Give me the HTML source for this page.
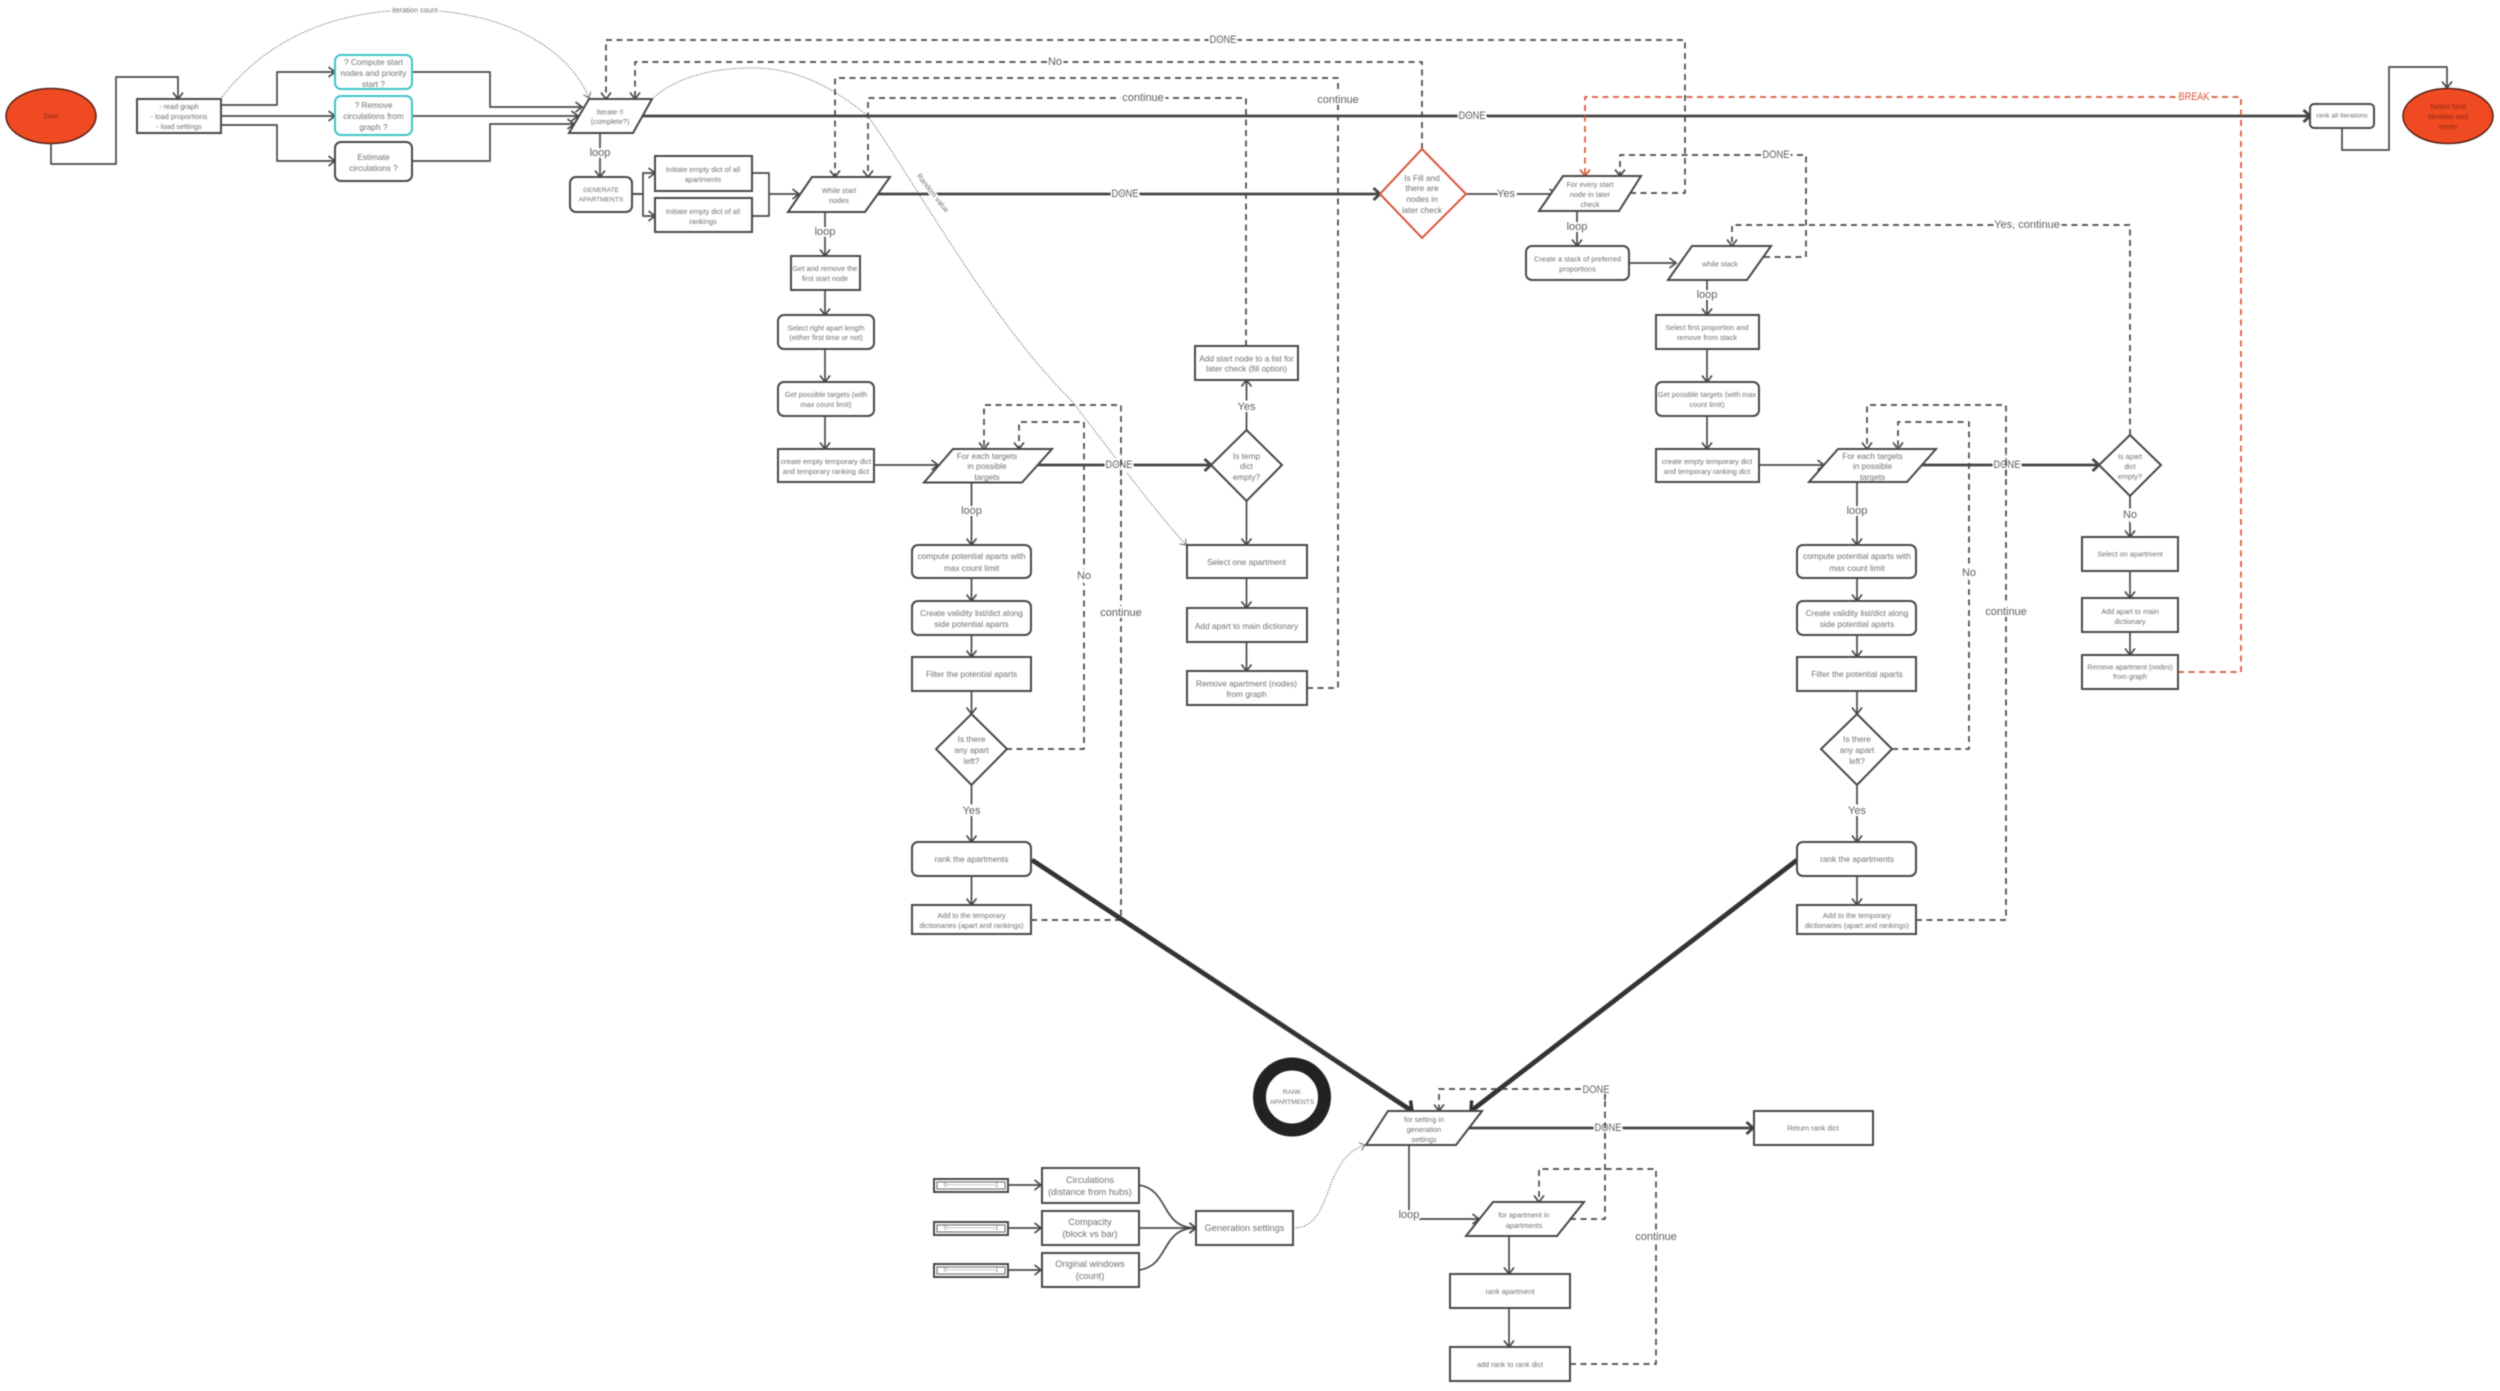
<!DOCTYPE html>
<html><head><meta charset="utf-8"><style>
html,body{margin:0;padding:0;background:#fff;width:2500px;height:1391px;overflow:hidden}
svg{display:block;filter:blur(.4px)}
text{font-family:"Liberation Sans",sans-serif;text-anchor:middle;dominant-baseline:central;fill:#707070}
.s{font-size:7.3px}.m{font-size:8.3px}.b{font-size:9.2px}.u{font-size:8.3px}
.l{font-size:11px;fill:#5e5e5e;paint-order:stroke;stroke:#fff;stroke-width:4px}
.n{fill:#fff;stroke:#484848;stroke-width:2}
.c{fill:none;stroke:#484848;stroke-width:1.7;stroke-linejoin:round}
.k{fill:none;stroke:#444;stroke-width:2.8;stroke-linejoin:round}
.d{fill:none;stroke:#484848;stroke-width:1.7;stroke-dasharray:6 4.5;stroke-linejoin:round}
.o{fill:none;stroke:#d9573a;stroke-width:1.7;stroke-dasharray:6 4.5;stroke-linejoin:round}
.p{fill:none;stroke:#666;stroke-width:1.1;stroke-dasharray:1.2 1.6}
</style></head><body>
<svg width="2500" height="1391" viewBox="0 0 2500 1391" xmlns="http://www.w3.org/2000/svg">
<defs>
<marker id="a" markerUnits="userSpaceOnUse" markerWidth="16" markerHeight="16" refX="8" refY="8" orient="auto"><path d="M1.5 3 L8 8 L1.5 13" fill="none" stroke="#484848" stroke-width="1.7"/></marker>
<marker id="t" markerUnits="userSpaceOnUse" markerWidth="20" markerHeight="20" refX="10" refY="10" orient="auto"><path d="M3.5 4 L10 10 L3.5 16" fill="none" stroke="#444" stroke-width="2.8"/></marker>
<marker id="r" markerUnits="userSpaceOnUse" markerWidth="16" markerHeight="16" refX="8" refY="8" orient="auto"><path d="M1.5 3 L8 8 L1.5 13" fill="none" stroke="#d9573a" stroke-width="1.7"/></marker>
<marker id="x" markerUnits="userSpaceOnUse" markerWidth="14" markerHeight="14" refX="7" refY="7" orient="auto"><path d="M2 3 L7 7 L2 11" fill="none" stroke="#666" stroke-width="1"/></marker>
<marker id="h" markerUnits="userSpaceOnUse" markerWidth="30" markerHeight="30" refX="15" refY="15" orient="auto"><path d="M8 7 L15 15 L8 23" fill="none" stroke="#333" stroke-width="3.4"/></marker>
</defs>

<!-- dotted -->
<path class="p" marker-end="url(#x)" d="M222 97 C270 35 340 10 415 10 C490 10 565 40 589 98"/>
<path class="p" d="M652 99 C675 78 710 68 752 68 C795 68 830 85 868 116"/>
<path class="p" marker-end="url(#x)" d="M868 116 C920 190 990 320 1071 400 C1110 450 1150 505 1186 545"/>
<path class="p" marker-end="url(#x)" d="M1293 1228 C1335 1228 1320 1160 1365 1145"/>

<!-- top connectors -->
<path class="c" marker-end="url(#a)" d="M51 143 V164 H116 V77 H178 V99"/>
<path class="c" marker-end="url(#a)" d="M221 105 H277 V72 H335"/>
<path class="c" marker-end="url(#a)" d="M221 116 H335"/>
<path class="c" marker-end="url(#a)" d="M221 125 H277 V161 H335"/>
<path class="c" marker-end="url(#a)" d="M412 72 H490 V107 H582"/>
<path class="c" marker-end="url(#a)" d="M412 116 H578"/>
<path class="c" marker-end="url(#a)" d="M412 161 H490 V124 H574"/>
<path class="c" marker-end="url(#a)" d="M600 133 V177"/>
<path class="c" marker-end="url(#a)" d="M632 194 H643 V173 H655"/>
<path class="c" marker-end="url(#a)" d="M632 194 H643 V216 H655"/>
<path class="c" d="M752 173 H769 V216 H752"/>
<path class="c" marker-end="url(#a)" d="M769 194 H799"/>
<path class="c" marker-end="url(#a)" d="M825 212 V256"/>
<path class="c" marker-end="url(#a)" d="M825 290 V315"/>
<path class="c" marker-end="url(#a)" d="M825 349 V382"/>
<path class="c" marker-end="url(#a)" d="M825 416 V449"/>
<path class="c" marker-end="url(#a)" d="M874 465 H938"/>
<path class="k" marker-end="url(#t)" d="M642 116 H2310"/>
<path class="k" marker-end="url(#t)" d="M878 194 H1380"/>
<path class="c" marker-end="url(#a)" d="M2342 128 V150 H2389 V67 H2447 V88"/>

<!-- dashed top -->
<path class="d" marker-end="url(#a)" d="M1630 193 H1685 V40 H606 V99"/>
<path class="d" marker-end="url(#a)" d="M1422 149 V62 H635 V99"/>
<path class="d" marker-end="url(#a)" d="M1307 688 H1338 V78 H835 V177"/>
<path class="d" marker-end="url(#a)" d="M1246 346 V98 H868 V177"/>
<path class="o" marker-end="url(#r)" d="M2178 672 H2241 V97 H1585 V176"/>
<path class="d" marker-end="url(#a)" d="M1764 257 H1806 V155 H1620 V176"/>
<path class="d" marker-end="url(#a)" d="M2130 435 V225 H1732 V246"/>

<!-- left inner column -->
<path class="c" marker-end="url(#a)" d="M971.5 482 V545"/>
<path class="c" marker-end="url(#a)" d="M971.5 578 V601"/>
<path class="c" marker-end="url(#a)" d="M971.5 635 V657"/>
<path class="c" marker-end="url(#a)" d="M971.5 691 V714"/>
<path class="c" marker-end="url(#a)" d="M971.5 785 V842"/>
<path class="c" marker-end="url(#a)" d="M971.5 876 V905"/>
<path class="d" marker-end="url(#a)" d="M1006 749 H1084 V422 H1019 V449"/>
<path class="d" marker-end="url(#a)" d="M1031 920 H1121 V405 H984 V449"/>
<path class="k" marker-end="url(#t)" d="M1036 465 H1211"/>
<path class="c" marker-end="url(#a)" d="M1246.5 430 V380"/>
<path class="c" marker-end="url(#a)" d="M1246.5 501 V545"/>
<path class="c" marker-end="url(#a)" d="M1246.5 578 V608"/>
<path class="c" marker-end="url(#a)" d="M1246.5 642 V671"/>

<!-- right column -->
<path class="c" marker-end="url(#a)" d="M1466 194 H1556"/>
<path class="c" marker-end="url(#a)" d="M1577 211 V246"/>
<path class="c" marker-end="url(#a)" d="M1629 263 H1676"/>
<path class="c" marker-end="url(#a)" d="M1707 280 V315"/>
<path class="c" marker-end="url(#a)" d="M1707 349 V382"/>
<path class="c" marker-end="url(#a)" d="M1707 416 V449"/>
<path class="c" marker-end="url(#a)" d="M1759 465 H1824"/>
<path class="c" marker-end="url(#a)" d="M1857 482 V545"/>
<path class="c" marker-end="url(#a)" d="M1857 578 V601"/>
<path class="c" marker-end="url(#a)" d="M1857 635 V657"/>
<path class="c" marker-end="url(#a)" d="M1857 691 V714"/>
<path class="c" marker-end="url(#a)" d="M1857 785 V842"/>
<path class="c" marker-end="url(#a)" d="M1857 876 V905"/>
<path class="d" marker-end="url(#a)" d="M1892 749 H1969 V422 H1898 V449"/>
<path class="d" marker-end="url(#a)" d="M1916 920 H2006 V405 H1867 V449"/>
<path class="k" marker-end="url(#t)" d="M1922 465 H2099"/>
<path class="c" marker-end="url(#a)" d="M2130 496 V537"/>
<path class="c" marker-end="url(#a)" d="M2130 571 V598"/>
<path class="c" marker-end="url(#a)" d="M2130 632 V655"/>

<!-- heavy arrows -->
<path fill="none" stroke="#333" stroke-width="4.8" marker-end="url(#h)" d="M1032 860 L1412 1111"/>
<path fill="none" stroke="#333" stroke-width="4.8" marker-end="url(#h)" d="M1797 860 L1471 1111"/>

<!-- bottom connectors -->
<path class="d" marker-end="url(#a)" d="M1570 1219 H1605 V1089 H1439 V1111"/>
<path class="k" marker-end="url(#t)" d="M1469 1128 H1753"/>
<path class="c" marker-end="url(#a)" d="M1409 1145 V1219 H1479"/>
<path class="d" marker-end="url(#a)" d="M1570 1364 H1656 V1169 H1539 V1202"/>
<path class="c" marker-end="url(#a)" d="M1509 1236 V1274"/>
<path class="c" marker-end="url(#a)" d="M1509 1308 V1347"/>
<path class="c" marker-end="url(#a)" d="M1008 1185 H1041"/>
<path class="c" marker-end="url(#a)" d="M1008 1228 H1041"/>
<path class="c" marker-end="url(#a)" d="M1008 1270 H1041"/>
<path class="c" marker-end="url(#a)" d="M1139 1185 C1170 1190 1160 1228 1196 1228"/>
<path class="c" marker-end="url(#a)" d="M1139 1228 H1196"/>
<path class="c" marker-end="url(#a)" d="M1139 1270 C1170 1266 1160 1228 1196 1228"/>

<!-- nodes -->
<ellipse cx="51" cy="116" rx="45" ry="27.5" fill="#f04a23" stroke="#5a2015" stroke-width="1.5"/>
<ellipse cx="2448" cy="116" rx="45" ry="27.5" fill="#f04a23" stroke="#5a2015" stroke-width="1.5"/>
<rect class="n" x="137" y="99" width="84" height="34"/>
<rect x="335" y="55" width="77" height="34" rx="6" fill="#fff" stroke="#3fc4c8" stroke-width="2"/>
<rect x="335" y="96" width="77" height="39" rx="6" fill="#fff" stroke="#3fc4c8" stroke-width="2"/>
<rect class="n" x="335" y="142" width="77" height="39" rx="6"/>
<polygon class="n" points="589,99 652,99 633,133 569,133"/>
<rect class="n" x="570" y="177" width="62" height="35" rx="6"/>
<rect class="n" x="655" y="156" width="97" height="35"/>
<rect class="n" x="655" y="198" width="97" height="34"/>
<polygon class="n" points="812,177 890,177 865,212 788,212"/>
<rect class="n" x="791" y="256" width="69" height="34"/>
<rect class="n" x="778" y="315" width="96" height="34" rx="6"/>
<rect class="n" x="778" y="382" width="96" height="34" rx="6"/>
<rect class="n" x="778" y="449" width="96" height="33"/>
<polygon class="n" points="953,449 1052,449 1022,482.5 924,482.5"/>
<rect class="n" x="912" y="545" width="119" height="33" rx="6"/>
<rect class="n" x="912" y="601" width="119" height="34" rx="6"/>
<rect class="n" x="912" y="657" width="119" height="34"/>
<polygon class="n" points="971.5,714 1007,749 971.5,785 936,749"/>
<rect class="n" x="912" y="842" width="119" height="34" rx="6"/>
<rect class="n" x="912" y="905" width="119" height="29"/>
<polygon class="n" points="1246.5,430 1282,465 1246.5,501 1211,465"/>
<rect class="n" x="1195" y="346" width="103" height="34"/>
<rect class="n" x="1187" y="545" width="120" height="33"/>
<rect class="n" x="1187" y="608" width="120" height="34"/>
<rect class="n" x="1187" y="671" width="120" height="34"/>
<polygon points="1422,149 1466,194 1422,238 1380,194" fill="#fff" stroke="#d9573a" stroke-width="2"/>
<polygon class="n" points="1563,176 1641,176 1619,211 1539,211"/>
<rect class="n" x="1526" y="246" width="103" height="34" rx="6"/>
<polygon class="n" points="1692,246 1771,246 1747,280 1668,280"/>
<rect class="n" x="1656" y="315" width="103" height="34"/>
<rect class="n" x="1656" y="382" width="103" height="34" rx="6"/>
<rect class="n" x="1656" y="449" width="103" height="33"/>
<polygon class="n" points="1838,449 1936,449 1907,482 1809,482"/>
<rect class="n" x="1797" y="545" width="119" height="33" rx="6"/>
<rect class="n" x="1797" y="601" width="119" height="34" rx="6"/>
<rect class="n" x="1797" y="657" width="119" height="34"/>
<polygon class="n" points="1857,714 1892,749 1857,785 1821,749"/>
<rect class="n" x="1797" y="842" width="119" height="34" rx="6"/>
<rect class="n" x="1797" y="905" width="119" height="29"/>
<polygon class="n" points="2130,435 2161,465 2130,496 2099,465"/>
<rect class="n" x="2082" y="537" width="96" height="34"/>
<rect class="n" x="2082" y="598" width="96" height="34"/>
<rect class="n" x="2082" y="655" width="96" height="34"/>
<rect class="n" x="2310" y="104" width="64" height="24" rx="4"/>
<ellipse cx="1292" cy="1097" rx="32.5" ry="33" fill="#fff" stroke="#222" stroke-width="13"/>
<polygon class="n" points="1388,1111 1482,1111 1456,1145 1366,1145"/>
<rect class="n" x="1754" y="1111" width="119" height="34"/>
<polygon class="n" points="1493,1202 1584,1202 1557,1236 1466,1236"/>
<rect class="n" x="1450" y="1274" width="120" height="34"/>
<rect class="n" x="1450" y="1347" width="120" height="34"/>
<rect class="n" x="1196" y="1211" width="97" height="34"/>
<rect class="n" x="1042" y="1168" width="97" height="35"/>
<rect class="n" x="1042" y="1211" width="97" height="34"/>
<rect class="n" x="1042" y="1253" width="97" height="34"/>
<rect class="n" x="934" y="1179" width="74" height="13"/><rect x="937" y="1182" width="68" height="7" fill="none" stroke="#666" stroke-width="1"/>
<rect class="n" x="934" y="1222" width="74" height="13"/><rect x="937" y="1225" width="68" height="7" fill="none" stroke="#666" stroke-width="1"/>
<rect class="n" x="934" y="1264" width="74" height="13"/><rect x="937" y="1267" width="68" height="7" fill="none" stroke="#666" stroke-width="1"/>

<!-- node text -->
<text class="s" x="51" y="116" style="fill:#8a2a12">Start</text>
<text class="s" style="fill:#8a2a12"><tspan x="2448" y="106">Select best</tspan><tspan x="2448" y="116">iteration and</tspan><tspan x="2448" y="126">return</tspan></text>
<text class="s"><tspan x="179" y="106">- read graph</tspan><tspan x="179" y="116">- load proportions</tspan><tspan x="179" y="126">- load settings</tspan></text>
<text class="u"><tspan x="373.5" y="62">? Compute start</tspan><tspan x="373.5" y="73">nodes and priority</tspan><tspan x="373.5" y="84">start ?</tspan></text>
<text class="u"><tspan x="373.5" y="105">? Remove</tspan><tspan x="373.5" y="116">circulations from</tspan><tspan x="373.5" y="127">graph ?</tspan></text>
<text class="u"><tspan x="373.5" y="157">Estimate</tspan><tspan x="373.5" y="168">circulations ?</tspan></text>
<text class="s"><tspan x="610" y="111.5">Iterate !!</tspan><tspan x="610" y="121">(complete?)</tspan></text>
<text style="font-size:6.6px"><tspan x="601" y="190">GENERATE</tspan><tspan x="601" y="199.5">APARTMENTS</tspan></text>
<text class="s"><tspan x="703" y="169">Initiate empty dict of all</tspan><tspan x="703" y="179">apartments</tspan></text>
<text class="s"><tspan x="703" y="211">Initiate empty dict of all</tspan><tspan x="703" y="221">rankings</tspan></text>
<text class="s"><tspan x="839" y="190">While start</tspan><tspan x="839" y="200">nodes</tspan></text>
<text class="s"><tspan x="825" y="268">Get and remove the</tspan><tspan x="825" y="278">first start node</tspan></text>
<text class="s"><tspan x="826" y="327.5">Select right apart length</tspan><tspan x="826" y="337">(either first time or not)</tspan></text>
<text class="s"><tspan x="826" y="394">Get possible targets (with</tspan><tspan x="826" y="404">max count limit)</tspan></text>
<text class="s"><tspan x="826" y="461">create empty temporary dict</tspan><tspan x="826" y="471">and temporary ranking dict</tspan></text>
<text class="m"><tspan x="987" y="456">For each targets</tspan><tspan x="987" y="466">in possible</tspan><tspan x="987" y="477">targets</tspan></text>
<text class="m"><tspan x="971.5" y="556">compute potential aparts with</tspan><tspan x="971.5" y="568">max count limit</tspan></text>
<text class="m"><tspan x="971.5" y="613">Create validity list/dict along</tspan><tspan x="971.5" y="624">side potential aparts</tspan></text>
<text class="m" x="971.5" y="674">Filter the potential aparts</text>
<text class="m"><tspan x="971.5" y="739">Is there</tspan><tspan x="971.5" y="750">any apart</tspan><tspan x="971.5" y="761">left?</tspan></text>
<text class="m" x="971.5" y="859">rank the apartments</text>
<text class="s"><tspan x="971.5" y="915">Add to the temporary</tspan><tspan x="971.5" y="925">dictionaries (apart and rankings)</tspan></text>
<text class="m"><tspan x="1246.5" y="456">Is temp</tspan><tspan x="1246.5" y="466">dict</tspan><tspan x="1246.5" y="477">empty?</tspan></text>
<text class="m"><tspan x="1246.5" y="358.5">Add start node to a list for</tspan><tspan x="1246.5" y="368.5">later check (fill option)</tspan></text>
<text class="m" x="1246.5" y="562">Select one apartment</text>
<text class="m" x="1246.5" y="626">Add apart to main dictionary</text>
<text class="m"><tspan x="1246.5" y="683.5">Remove apartment (nodes)</tspan><tspan x="1246.5" y="694">from graph</tspan></text>
<text class="m"><tspan x="1422" y="178">Is Fill and</tspan><tspan x="1422" y="188">there are</tspan><tspan x="1422" y="199">nodes in</tspan><tspan x="1422" y="210">later check</tspan></text>
<text class="s"><tspan x="1590" y="184">For every start</tspan><tspan x="1590" y="194">node in later</tspan><tspan x="1590" y="204">check</tspan></text>
<text class="s"><tspan x="1577.5" y="258.5">Create a stack of preferred</tspan><tspan x="1577.5" y="268.5">proportions</tspan></text>
<text class="s" x="1720" y="264">while stack</text>
<text class="s"><tspan x="1707" y="327">Select first proportion and</tspan><tspan x="1707" y="337">remove from stack</tspan></text>
<text class="s"><tspan x="1707" y="394">Get possible targets (with max</tspan><tspan x="1707" y="404">count limit)</tspan></text>
<text class="s"><tspan x="1707" y="461">create empty temporary dict</tspan><tspan x="1707" y="471">and temporary ranking dict</tspan></text>
<text class="m"><tspan x="1872.5" y="456">For each targets</tspan><tspan x="1872.5" y="466">in possible</tspan><tspan x="1872.5" y="477">targets</tspan></text>
<text class="m"><tspan x="1857" y="556">compute potential aparts with</tspan><tspan x="1857" y="568">max count limit</tspan></text>
<text class="m"><tspan x="1857" y="613">Create validity list/dict along</tspan><tspan x="1857" y="624">side potential aparts</tspan></text>
<text class="m" x="1857" y="674">Filter the potential aparts</text>
<text class="m"><tspan x="1857" y="739">Is there</tspan><tspan x="1857" y="750">any apart</tspan><tspan x="1857" y="761">left?</tspan></text>
<text class="m" x="1857" y="859">rank the apartments</text>
<text class="s"><tspan x="1857" y="915">Add to the temporary</tspan><tspan x="1857" y="925">dictionaries (apart and rankings)</tspan></text>
<text class="s"><tspan x="2130" y="456">Is apart</tspan><tspan x="2130" y="466">dict</tspan><tspan x="2130" y="476">empty?</tspan></text>
<text class="s" x="2130" y="554">Select on apartment</text>
<text class="s"><tspan x="2130" y="611">Add apart to main</tspan><tspan x="2130" y="621">dictionary</tspan></text>
<text style="font-size:7px"><tspan x="2130" y="667.5">Remove apartment (nodes)</tspan><tspan x="2130" y="677">from graph</tspan></text>
<text class="s" x="2342" y="116" style="font-size:6.8px">rank all iterations</text>
<text style="font-size:6.6px"><tspan x="1292" y="1092">RANK</tspan><tspan x="1292" y="1102">APARTMENTS</tspan></text>
<text class="s"><tspan x="1424" y="1119">for setting in</tspan><tspan x="1424" y="1129">generation</tspan><tspan x="1424" y="1139">settings</tspan></text>
<text class="s" x="1813" y="1128">Return rank dict</text>
<text class="s"><tspan x="1524" y="1214.5">for apartment in</tspan><tspan x="1524" y="1225">apartments</tspan></text>
<text class="s" x="1510" y="1291.5">rank apartment</text>
<text class="s" x="1510" y="1364.5">add rank to rank dict</text>
<text class="b"><tspan x="1090" y="1180">Circulations</tspan><tspan x="1090" y="1192">(distance from hubs)</tspan></text>
<text class="b"><tspan x="1090" y="1222">Compacity</tspan><tspan x="1090" y="1234">(block vs bar)</tspan></text>
<text class="b"><tspan x="1090" y="1264">Original windows</tspan><tspan x="1090" y="1276">(count)</tspan></text>
<text class="b" x="1244.5" y="1228">Generation settings</text>
<text style="font-size:6px" x="971" y="1185.5">0------------------------1</text>
<text style="font-size:6px" x="971" y="1228.5">0------------------------1</text>
<text style="font-size:6px" x="971" y="1270.5">0------------------------1</text>

<!-- edge labels -->
<text class="s" x="415" y="10" style="paint-order:stroke;stroke:#fff;stroke-width:3px">iteration count</text>
<text class="s" transform="translate(933 193) rotate(52)" style="paint-order:stroke;stroke:#fff;stroke-width:3px">Random value</text>
<text class="l" x="1223" y="40" textLength="27" lengthAdjust="spacingAndGlyphs">DONE</text>
<text class="l" x="1055" y="62">No</text>
<text class="l" x="1143" y="98">continue</text>
<text class="l" x="1338" y="100">continue</text>
<text class="l" x="1472" y="116" textLength="27" lengthAdjust="spacingAndGlyphs">DONE</text>
<text class="l" x="600" y="153">loop</text>
<text class="l" x="825" y="232">loop</text>
<text class="l" x="1125" y="194" textLength="27" lengthAdjust="spacingAndGlyphs">DONE</text>
<text class="l" x="1506" y="194">Yes</text>
<text class="l" x="1577" y="227">loop</text>
<text class="l" style="fill:#d9573a" x="2194" y="97" textLength="31" lengthAdjust="spacingAndGlyphs">BREAK</text>
<text class="l" x="1776" y="155" textLength="27" lengthAdjust="spacingAndGlyphs">DONE</text>
<text class="l" x="2027" y="225">Yes, continue</text>
<text class="l" x="1707" y="295">loop</text>
<text class="l" x="1246.5" y="407">Yes</text>
<text class="l" x="1119" y="465" textLength="27" lengthAdjust="spacingAndGlyphs">DONE</text>
<text class="l" x="971.5" y="511">loop</text>
<text class="l" x="1084" y="576">No</text>
<text class="l" x="1121" y="613">continue</text>
<text class="l" x="971.5" y="811">Yes</text>
<text class="l" x="2007" y="465" textLength="27" lengthAdjust="spacingAndGlyphs">DONE</text>
<text class="l" x="1857" y="511">loop</text>
<text class="l" x="1969" y="573">No</text>
<text class="l" x="2006" y="612">continue</text>
<text class="l" x="1857" y="811">Yes</text>
<text class="l" x="2130" y="515">No</text>
<text class="l" x="1596" y="1090" textLength="27" lengthAdjust="spacingAndGlyphs">DONE</text>
<text class="l" x="1608" y="1128" textLength="27" lengthAdjust="spacingAndGlyphs">DONE</text>
<text class="l" x="1409" y="1215">loop</text>
<text class="l" x="1656" y="1237">continue</text>

<!-- dashed lines passing through labels -->
<path class="d" d="M1121 476 V454"/>
<path class="d" d="M2006 476 V454"/>
<path class="d" d="M1605 1139 V1117"/>
<path class="d" d="M1605 1100 V1089"/>
</svg>
</body></html>
